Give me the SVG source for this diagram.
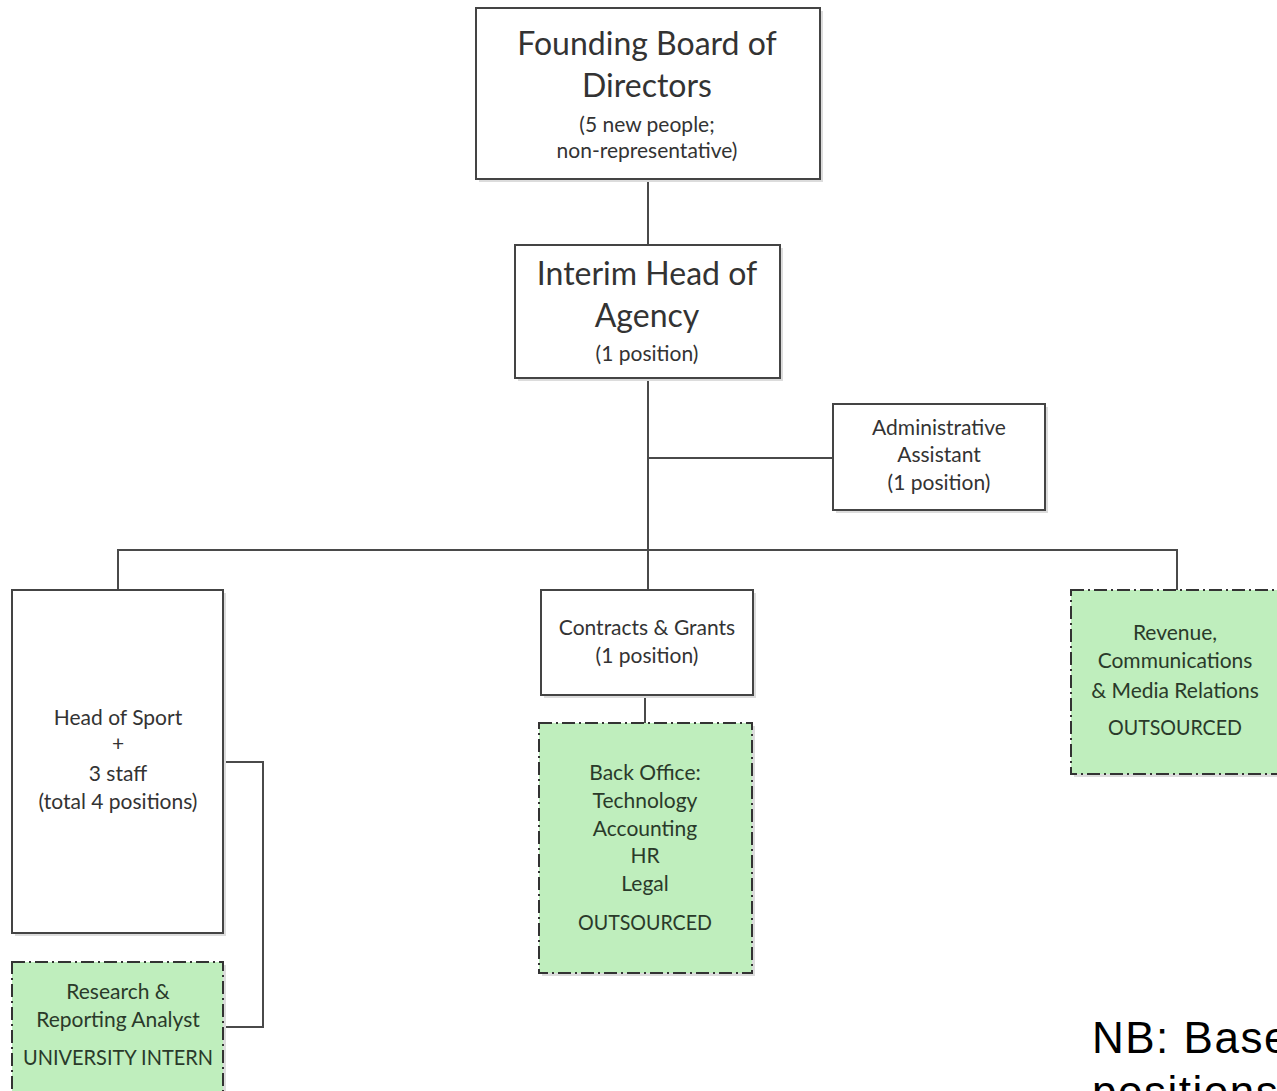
<svg xmlns="http://www.w3.org/2000/svg" width="1277" height="1091" viewBox="0 0 1277 1091">
<style>
.box{fill:#ffffff;stroke:#444;stroke-width:2}
.out{fill:#bfeebd;stroke:#333;stroke-width:2;stroke-dasharray:13 4 2 4}
.sh{fill:#dcdcdc}
.conn{fill:none;stroke:#4a4a4a;stroke-width:2}
.big{font-family:Lato,"Liberation Sans",sans-serif;font-size:32px;fill:#333;text-anchor:middle}
.sm{font-family:Lato,"Liberation Sans",sans-serif;font-size:21px;fill:#333;text-anchor:middle}
.gt{font-family:Lato,"Liberation Sans",sans-serif;font-size:21px;fill:#2a3a2a;text-anchor:middle}
.nb{font-family:"Liberation Sans",Arial,sans-serif;font-size:44px;letter-spacing:1.5px;fill:#000}
</style>
<rect width="1277" height="1091" fill="#ffffff"/>
<g id="connectors">
<path class="conn" d="M648 179V245"/>
<path class="conn" d="M648 378V590"/>
<path class="conn" d="M648 458H833"/>
<path class="conn" d="M118 590V550H1177V590"/>
<path class="conn" d="M645 695V723"/>
<path class="conn" d="M223 762H263V1027H223"/>
</g>
<g id="board">
<rect class="sh" x="479" y="11" width="344" height="171"/>
<rect class="box" x="476" y="8" width="344" height="171"/>
<text class="big" x="647" y="55">Founding Board of</text>
<text class="big" x="647" y="97">Directors</text>
<text class="sm" x="647" y="132">(5 new people;</text>
<text class="sm" x="647" y="158">non-representative)</text>
</g>
<g id="interim">
<rect class="sh" x="518" y="248" width="265" height="133"/>
<rect class="box" x="515" y="245" width="265" height="133"/>
<text class="big" x="647" y="285">Interim Head of</text>
<text class="big" x="647" y="327">Agency</text>
<text class="sm" x="647" y="361">(1 position)</text>
</g>
<g id="admin">
<rect class="sh" x="836" y="407" width="212" height="106"/>
<rect class="box" x="833" y="404" width="212" height="106"/>
<text class="sm" x="939" y="435">Administrative</text>
<text class="sm" x="939" y="462">Assistant</text>
<text class="sm" x="939" y="490">(1 position)</text>
</g>
<g id="sport">
<rect class="sh" x="15" y="593" width="211" height="343"/>
<rect class="box" x="12" y="590" width="211" height="343"/>
<text class="sm" x="118" y="725">Head of Sport</text>
<text class="sm" x="118" y="751">+</text>
<text class="sm" x="118" y="781">3 staff</text>
<text class="sm" x="118" y="809">(total 4 positions)</text>
</g>
<g id="research">
<rect class="sh" x="15" y="965" width="211" height="140"/>
<rect class="out" x="12" y="962" width="211" height="140"/>
<text class="gt" x="118" y="999">Research &amp;</text>
<text class="gt" x="118" y="1027">Reporting Analyst</text>
<text class="gt" x="118" y="1065" textLength="190" lengthAdjust="spacingAndGlyphs">UNIVERSITY INTERN</text>
</g>
<g id="contracts">
<rect class="sh" x="544" y="593" width="212" height="105"/>
<rect class="box" x="541" y="590" width="212" height="105"/>
<text class="sm" x="647" y="635">Contracts &amp; Grants</text>
<text class="sm" x="647" y="663">(1 position)</text>
</g>
<g id="backoffice">
<rect class="sh" x="542" y="726" width="213" height="250"/>
<rect class="out" x="539" y="723" width="213" height="250"/>
<text class="gt" x="645" y="780">Back Office:</text>
<text class="gt" x="645" y="808">Technology</text>
<text class="gt" x="645" y="836">Accounting</text>
<text class="gt" x="645" y="863">HR</text>
<text class="gt" x="645" y="891">Legal</text>
<text class="gt" x="645" y="930" textLength="134" lengthAdjust="spacingAndGlyphs">OUTSOURCED</text>
</g>
<g id="revenue">
<rect class="sh" x="1074" y="593" width="210" height="184"/>
<rect class="out" x="1071" y="590" width="210" height="184"/>
<text class="gt" x="1175" y="640">Revenue,</text>
<text class="gt" x="1175" y="668">Communications</text>
<text class="gt" x="1175" y="698">&amp; Media Relations</text>
<text class="gt" x="1175" y="735" textLength="134" lengthAdjust="spacingAndGlyphs">OUTSOURCED</text>
</g>
<g id="note">
<text class="nb" x="1092" y="1053">NB: Base</text>
<text class="nb" x="1092" y="1107">positions</text>
</g>
</svg>
